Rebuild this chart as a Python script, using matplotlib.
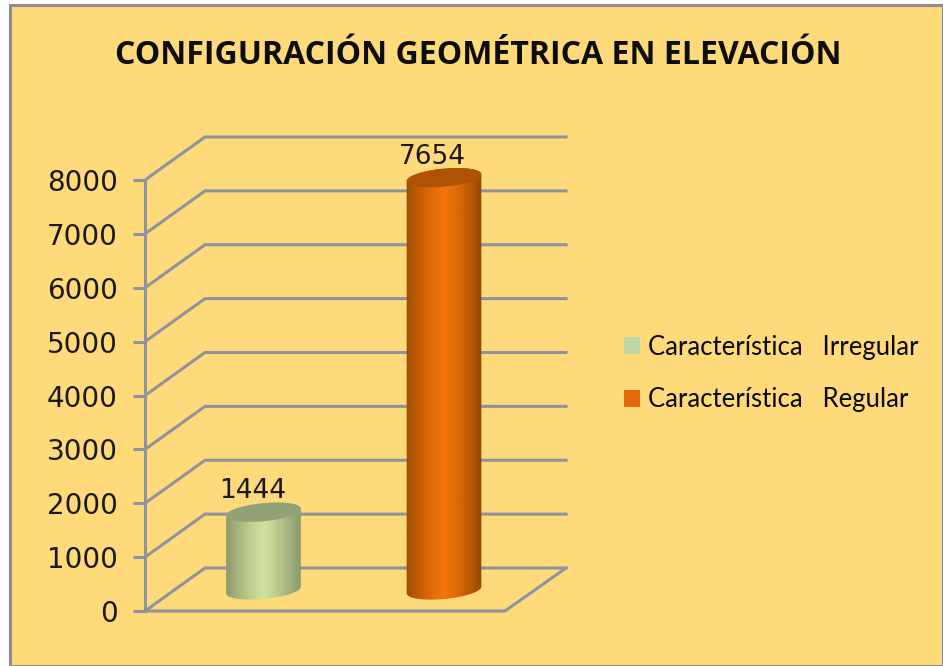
import numpy as np
import matplotlib
matplotlib.use('Agg')
import matplotlib.pyplot as plt
from matplotlib.colors import LinearSegmentedColormap
from matplotlib.patches import Patch, PathPatch, Rectangle
from matplotlib.path import Path

title = 'CONFIGURACIÓN GEOMÉTRICA EN ELEVACIÓN'
categories = ['Característica   Irregular', 'Característica   Regular']
values = [1444, 7654]
yticks = [0, 1000, 2000, 3000, 4000, 5000, 6000, 7000, 8000]

W, H = 943, 666
BG = '#FFDA7B'
GRID = '#8E939C'
Y0_PX, Y8000_PX = 611, 180
PER_PX = 8000 / (Y0_PX - Y8000_PX)   # value units per pixel
LEFT = 145

fig = plt.figure(figsize=(W / 100, H / 100), dpi=100, facecolor='white')
fig.add_artist(Rectangle((10 / W, 0), (W - 10) / W, (H - 5) / H, transform=fig.transFigure,
                         facecolor=BG, edgecolor='#8C8C8C', linewidth=2.2, zorder=-1))

ax = fig.add_axes([LEFT / W, 0, (W - LEFT) / W, 1 - 8 / H])
ax.patch.set_alpha(0)
ax.set_xlim(LEFT, W)
ax.set_ylim(-(H - Y0_PX) * PER_PX, (Y0_PX - 8) * PER_PX)


def dy(px):
    return px * PER_PX


# walls and floor
dx_back, dy_back = 60, 43
for t in yticks:
    ax.plot([LEFT, LEFT + dx_back, 566], [t, t + dy(dy_back), t + dy(dy_back)],
            color=GRID, lw=2.2, zorder=1, solid_joinstyle='miter')
ax.plot([LEFT, 505, 566], [0, 0, dy(dy_back)], color=GRID, lw=2.2, zorder=1)

for s in ['top', 'right', 'bottom']:
    ax.spines[s].set_visible(False)
ax.spines['left'].set_bounds(0, 8000)
ax.spines['left'].set_color(GRID)
ax.spines['left'].set_linewidth(2.2)
ax.set_xticks([])
ax.set_yticks(yticks)
ax.tick_params(axis='y', length=8.5, width=2.2, color=GRID, pad=11, labelsize=20)
for lab in ax.get_yticklabels():
    lab.set_fontfamily('DejaVu Sans')
    lab.set_color('#1a1a1a')


def ellipse(cx, cy, rx, ry, tilt, a0=0, a1=2 * np.pi, n=80):
    a = np.linspace(a0, a1, n)
    x = rx * np.cos(a)
    y = ry * np.sin(a)
    c, s = np.cos(tilt), np.sin(tilt)
    return cx + x * c - y * s, cy + dy(x * s + y * c)


def cylinder(cx, val, rx, colors, top_color):
    base = dy(21)
    tilt = np.radians(5.5)
    ry = 9
    xb, yb = ellipse(cx, base, rx, ry, tilt, np.pi, 2 * np.pi)
    xt, yt = ellipse(cx, base + val, rx, ry, tilt, 0, np.pi)
    verts = np.r_[np.c_[xb, yb], np.c_[xt, yt], [[xb[0], yb[0]]]]
    body = Path(verts, closed=True)
    cmap = LinearSegmentedColormap.from_list('cyl', colors)
    im = ax.imshow(np.linspace(0, 1, 200)[None, :], cmap=cmap, aspect='auto',
                   extent=[cx - rx - 2, cx + rx + 2, base - dy(15), base + val + dy(15)], zorder=3)
    im.set_clip_path(PathPatch(body, transform=ax.transData))
    xc, yc = ellipse(cx, base + val, rx, ry, tilt)
    ax.fill(xc, yc, color=top_color, zorder=4, lw=0)


centers = [263.5, 444]
bar_colors = [
    (['#85966A', '#A3B47C', '#BFCF8F', '#D3E29F', '#BDCD8F', '#9FB07C', '#85966A'], '#93A177'),
    (['#9A4A05', '#C25C06', '#E06B08', '#F47508', '#DD6A08', '#B95805', '#8F4505'], '#AE5205'),
]
for cx, val, (cols, top) in zip(centers, values, bar_colors):
    cylinder(cx, val, 37.5, cols, top)
    ax.text(cx - 11 if val < 5000 else cx - 12, val + dy(21) + dy(8), str(val), ha='center',
            va='bottom', fontsize=19, color='#1a1a1a', family='DejaVu Sans', zorder=5)

# imshow resets the limits
ax.set_xlim(LEFT, W)
ax.set_ylim(-(H - Y0_PX) * PER_PX, (Y0_PX - 8) * PER_PX)

fig.text(478 / W, 1 - 56 / H, title, ha='center', va='center', fontsize=23,
         fontweight='bold', family='Open Sans', color='#0d0d0d')

handles = [Patch(facecolor='#BFD5A3', edgecolor='none'), Patch(facecolor='#E56B0A', edgecolor='none')]
leg = ax.legend(handles, categories, loc='center left', bbox_to_anchor=(624 / W, 1 - 373.5 / H),
                bbox_transform=fig.transFigure, frameon=False, prop={'family': 'Lato', 'size': 18.5},
                handlelength=0.62, handleheight=0.62, handletextpad=0.33, labelspacing=1.08,
                borderpad=0, borderaxespad=0)
for t in leg.get_texts():
    t.set_color('#0a0a0a')

fig.savefig('out.png', dpi=100, facecolor='white')
